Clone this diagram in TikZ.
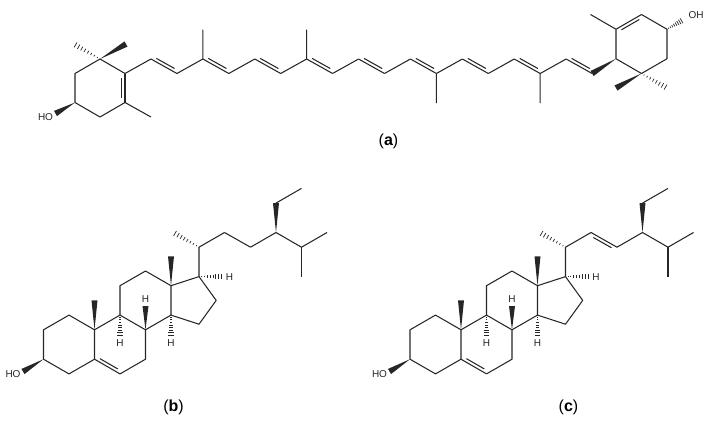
\documentclass[tikz,border=0pt]{standalone}
\usepackage{fontspec}
\setmainfont{Liberation Sans}
\usetikzlibrary{calc}
\definecolor{bondc}{gray}{0.15}
\tikzset{
  bond/.style={draw=bondc, line width=1.05pt, line join=round},
  lbl/.style={inner sep=0pt, text=bondc, font=\fontsize{10}{12}\selectfont},
  tag/.style={inner sep=0pt, text=black, font=\fontsize{16}{19}\selectfont},
}
\newcommand\mywedge[2]{\fill[bondc] (#1) -- ($(#2)!3pt!90:(#1)$) -- ($(#2)!3pt!-90:(#1)$) -- cycle;}
\newcommand\myhash[2]{\foreach \t in {0.1,0.22,...,0.95}{\pgfmathsetmacro\hlen{0.3+2.7*\t}\draw[bondc,line width=0.7pt] ($(#1)!\t!(#2)!\hlen pt!90:(#2)$) -- ($(#1)!\t!(#2)!\hlen pt!-90:(#2)$);}}
\newcommand\dbl[3]{\draw[bond] (#1) -- (#2); \draw[bond] ($(#1)!0.15!(#2)!3.2pt!#3:(#2)$) -- ($(#1)!0.85!(#2)!3.2pt!#3:(#2)$);}
\newcommand\sterolcore[1]{%
  \coordinate (#1C1) at (69,315.1);
  \coordinate (#1C2) at (43.5,329.8);
  \coordinate (#1C3) at (43.5,359.2);
  \coordinate (#1C4) at (69,373.9);
  \coordinate (#1C5) at (94.5,359.2);
  \coordinate (#1C10) at (94.5,329.8);
  \coordinate (#1C6) at (120,373.9);
  \coordinate (#1C7) at (145.5,359.2);
  \coordinate (#1C8) at (145.5,329.8);
  \coordinate (#1C9) at (120,315.1);
  \coordinate (#1C11) at (120,285.7);
  \coordinate (#1C12) at (145.5,271);
  \coordinate (#1C13) at (171,285.7);
  \coordinate (#1C14) at (171,315.1);
  \coordinate (#1C15) at (199,324.2);
  \coordinate (#1C16) at (216.2,300.4);
  \coordinate (#1C17) at (199,276.6);
  \coordinate (#1C18) at (171,256.3);
  \coordinate (#1C19) at (94.5,300.4);
  \coordinate (#1C20) at (199,247.2);
  \coordinate (#1C21) at (173.5,232.5);
  \coordinate (#1C22) at (224.5,232.5);
  \coordinate (#1C23) at (250.5,247.2);
  \coordinate (#1C24) at (276,232.5);
  \coordinate (#1C28) at (276,203.1);
  \coordinate (#1C29) at (301.5,188.4);
  \coordinate (#1C25) at (301.5,247.2);
  \coordinate (#1C26) at (327,232.5);
  \coordinate (#1C27) at (301.5,276.6);
  \coordinate (#1h8) at (145.5,306);
  \coordinate (#1h9) at (120,336.5);
  \coordinate (#1h14) at (171,336.5);
  \coordinate (#1h17) at (223,276.6);
  \coordinate (#1o3) at (23,371.5);
  \draw[bond] (#1C1)--(#1C2)--(#1C3)--(#1C4)--(#1C5)--(#1C10)--cycle;
  \draw[bond] (#1C10)--(#1C9)--(#1C8)--(#1C7)--(#1C6);
  \dbl{#1C5}{#1C6}{90}
  \draw[bond] (#1C9)--(#1C11)--(#1C12)--(#1C13)--(#1C14)--(#1C8);
  \draw[bond] (#1C14)--(#1C15)--(#1C16)--(#1C17)--(#1C13);
  \draw[bond] (#1C17)--(#1C20)--(#1C22);
  \draw[bond] (#1C23)--(#1C24)--(#1C25)--(#1C26);
  \draw[bond] (#1C25)--(#1C27);
  \draw[bond] (#1C28)--(#1C29);
  \mywedge{#1C13}{#1C18}
  \mywedge{#1C10}{#1C19}
  \mywedge{#1C8}{#1h8}
  \mywedge{#1C24}{#1C28}
  \mywedge{#1C3}{#1o3}
  \myhash{#1C9}{#1h9}
  \myhash{#1C14}{#1h14}
  \myhash{#1C17}{#1h17}
  \myhash{#1C20}{#1C21}
  \node[lbl] (#1H8) at (145.5,299) {H};
  \node[lbl] (#1H9) at (120,343.5) {H};
  \node[lbl] (#1H14) at (171,343.5) {H};
  \node[lbl] (#1H17) at (229.5,276.6) {H};
  \node[lbl] (#1HO) at (13,374) {HO};
}
\begin{document}
\begin{tikzpicture}[x=1pt,y=-1pt]
\useasboundingbox (0,0) rectangle (709,423);
% ---------- (a) lutein ----------
\foreach \i in {0,...,18}{%
  \pgfmathsetmacro\cx{125+25.95*\i}%
  \pgfmathsetmacro\cy{isodd(\i)?59:73.5}%
  \coordinate (c\i) at (\cx,\cy);}
\coordinate (L1) at (100,59);
\coordinate (L3) at (125,102.5);
\coordinate (L4) at (100,117);
\coordinate (L5) at (75,102.5);
\coordinate (L6) at (75,73.5);
\coordinate (Lma) at (74,44);
\coordinate (Lmb) at (126,44);
\coordinate (Lmc) at (151,117);
\coordinate (Lo) at (55.5,113.5);
\draw[bond] (c0)--(L1)--(L6)--(L5)--(L4)--(L3);
\dbl{c0}{L3}{-90}
\draw[bond] (L3)--(Lmc);
\mywedge{L1}{Lmb}
\myhash{L1}{Lma}
\mywedge{L5}{Lo}
\node[lbl] (HOa) at (45.5,117) {HO};
\foreach \k in {0,...,8}{%
  \pgfmathtruncatemacro\ia{2*\k}\pgfmathtruncatemacro\ib{2*\k+1}%
  \draw[bond] (c\ia)--(c\ib);}
\foreach \k in {0,...,8}{%
  \pgfmathtruncatemacro\ia{2*\k+1}\pgfmathtruncatemacro\ib{2*\k+2}%
  \dbl{c\ia}{c\ib}{90}}
\coordinate (m3) at (202.85,29.5);
\coordinate (m7) at (306.65,29.5);
\coordinate (m12) at (436.4,103);
\coordinate (m16) at (540.2,103);
\draw[bond] (c3)--(m3) (c7)--(m7) (c12)--(m12) (c16)--(m16);
\coordinate (R1) at (641.5,14.5);
\coordinate (R2) at (667,29.25);
\coordinate (R3) at (667,58.75);
\coordinate (R4) at (641.5,73.5);
\coordinate (R5) at (616,58.75);
\coordinate (R6) at (616,29.25);
\coordinate (Rm) at (590.5,14.5);
\coordinate (Rma) at (616,88);
\coordinate (Rmb) at (667,88);
\coordinate (Ro) at (682.5,20.3);
\draw[bond] (R1)--(R2)--(R3)--(R4)--(R5)--(R6);
\dbl{R6}{R1}{-90}
\draw[bond] (R6)--(Rm);
\mywedge{R5}{c18}
\mywedge{R4}{Rma}
\myhash{R4}{Rmb}
\myhash{R2}{Ro}
\node[lbl] (OHa) at (696,15) {OH};
\node[tag] (taga) at (388.5,141) {({\bfseries a})};
% ---------- (b) ----------
\sterolcore{b}
\draw[bond] (bC22)--(bC23);
\node[tag] (tagb) at (173.5,407) {({\bfseries b})};
% ---------- (c) ----------
\begin{scope}[shift={(366.5,0)}]
\sterolcore{c}
\end{scope}
\dbl{cC22}{cC23}{-90}
\node[tag] (tagc) at (568.5,407) {({\bfseries c})};
\end{tikzpicture}
\end{document}
